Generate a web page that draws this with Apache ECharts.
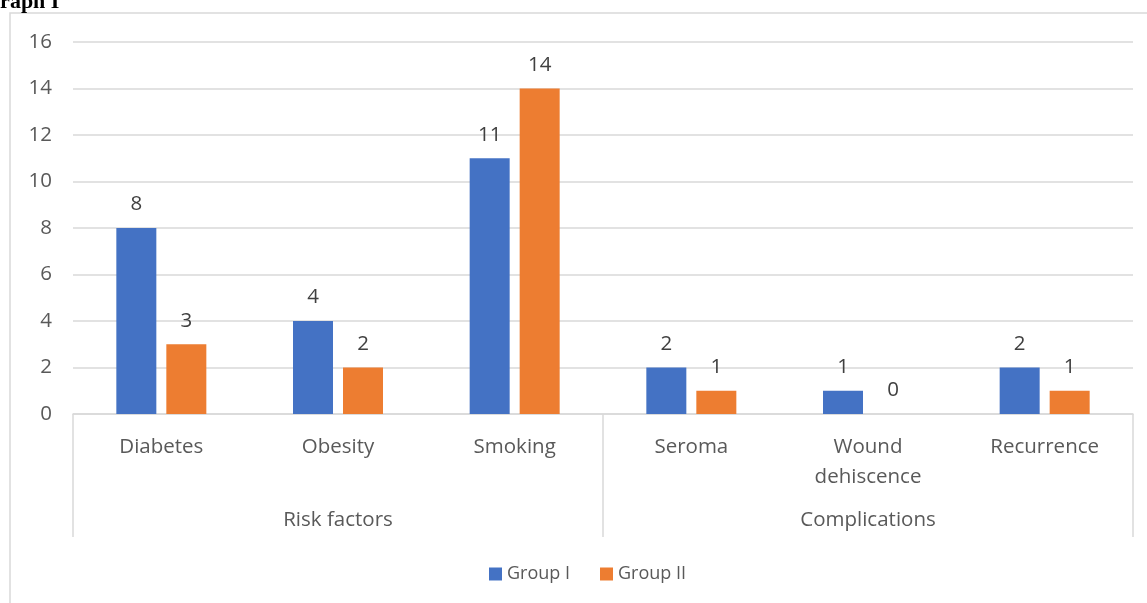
<!DOCTYPE html>
<html><head><meta charset="utf-8">
<script src="https://cdn.jsdelivr.net/npm/echarts@6/dist/echarts.min.js"></script>
<style>html,body{margin:0;padding:0;background:#fff}#c{width:1147px;height:603px}</style>
</head><body><div id="c"></div>
<script>
const categories = ['Diabetes', 'Obesity', 'Smoking', 'Seroma', 'Wound\ndehiscence', 'Recurrence'];
const groups = ['Risk factors', 'Complications'];
const groupI = [8, 4, 11, 2, 1, 2];
const groupII = [3, 2, 14, 1, 0, 1];
const yTicks = { min: 0, max: 16, interval: 2 };

const font = 'Open Sans';
const fs = 20.5;
const chart = echarts.init(document.getElementById('c'));
chart.setOption({
  animation: false,
  textStyle: { fontFamily: font },
  graphic: [
    { type: 'rect', shape: { x: 10, y: 13, width: 1150, height: 600 }, style: { fill: 'none', stroke: '#d9d9d9', lineWidth: 1.5 }, silent: true },
    { type: 'text', left: -17, top: -9, style: { text: 'Graph I', font: 'bold 22px "Liberation Serif"', fill: '#000' } }
  ],
  grid: { left: 73, right: 14, top: 42, bottom: 189, containLabel: false },
  legend: {
    bottom: 15, left: 484, itemWidth: 13, itemHeight: 13, itemGap: 30,
    icon: 'rect',
    textStyle: { fontSize: 18, color: '#595959', fontFamily: font }
  },
  xAxis: [
    {
      type: 'category', data: categories, position: 'bottom',
      axisLine: { lineStyle: { color: '#d9d9d9', width: 1.5 } },
      axisTick: { show: false },
      axisLabel: { margin: 18, fontSize: fs, color: '#595959', lineHeight: 30, interval: 0 }
    },
    {
      type: 'category', data: groups, position: 'bottom',
      axisLine: { show: false },
      axisTick: { show: true, length: 123, lineStyle: { color: '#d9d9d9', width: 1.5 } },
      axisLabel: { margin: 96, fontSize: fs, color: '#595959' }
    }
  ],
  yAxis: {
    type: 'value', min: yTicks.min, max: yTicks.max, interval: yTicks.interval,
    axisLine: { show: false }, axisTick: { show: false },
    axisLabel: { margin: 21, fontSize: fs, color: '#595959' },
    splitLine: { lineStyle: { color: '#d9d9d9', width: 1.5 } }
  },
  series: [
    {
      name: 'Group I', type: 'bar', data: groupI, xAxisIndex: 0,
      barWidth: 40, barGap: '25%',
      itemStyle: { color: '#4472c4' },
      label: { show: true, position: 'top', distance: 13, fontSize: fs, color: '#404040' }
    },
    {
      name: 'Group II', type: 'bar', data: groupII, xAxisIndex: 0,
      barWidth: 40, barGap: '25%',
      itemStyle: { color: '#ed7d31' },
      label: { show: true, position: 'top', distance: 13, fontSize: fs, color: '#404040' }
    }
  ]
});
</script></body></html>
